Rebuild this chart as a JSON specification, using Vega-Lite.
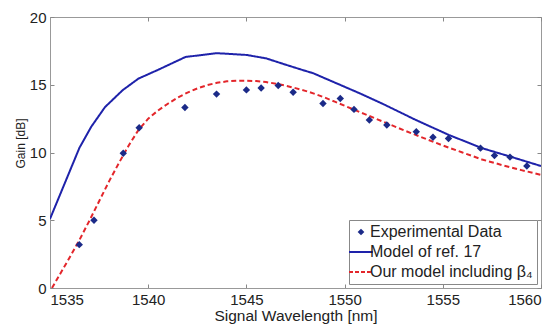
{
  "$schema": "https://vega.github.io/schema/vega-lite/v6.json",
  "width": 491,
  "height": 271,
  "autosize": "none",
  "padding": {"left": 50, "top": 17, "right": 18, "bottom": 36},
  "background": "white",
  "config": {
    "font": "Liberation Sans",
    "view": {"stroke": "#999999", "strokeWidth": 1},
    "axis": {
      "grid": false,
      "domainColor": "#999999",
      "tickColor": "#888888",
      "labelColor": "#222222",
      "titleColor": "#222222",
      "labelFont": "Liberation Sans",
      "titleFont": "Liberation Sans",
      "labelFontSize": 15,
      "titleFontWeight": "normal",
      "tickSize": -4
    }
  },
  "data": {
    "values": [
      {"series": "Experimental Data", "wl": 1536.49, "gain": 3.2},
      {"series": "Experimental Data", "wl": 1537.24, "gain": 5.0},
      {"series": "Experimental Data", "wl": 1538.73, "gain": 9.94},
      {"series": "Experimental Data", "wl": 1539.54, "gain": 11.83},
      {"series": "Experimental Data", "wl": 1541.87, "gain": 13.32},
      {"series": "Experimental Data", "wl": 1543.48, "gain": 14.31},
      {"series": "Experimental Data", "wl": 1545.0, "gain": 14.62},
      {"series": "Experimental Data", "wl": 1545.75, "gain": 14.76},
      {"series": "Experimental Data", "wl": 1546.62, "gain": 14.95},
      {"series": "Experimental Data", "wl": 1547.38, "gain": 14.45},
      {"series": "Experimental Data", "wl": 1548.9, "gain": 13.62},
      {"series": "Experimental Data", "wl": 1549.78, "gain": 13.98},
      {"series": "Experimental Data", "wl": 1550.48, "gain": 13.18},
      {"series": "Experimental Data", "wl": 1551.26, "gain": 12.4},
      {"series": "Experimental Data", "wl": 1552.15, "gain": 12.03},
      {"series": "Experimental Data", "wl": 1553.65, "gain": 11.53},
      {"series": "Experimental Data", "wl": 1554.5, "gain": 11.13},
      {"series": "Experimental Data", "wl": 1555.29, "gain": 11.03},
      {"series": "Experimental Data", "wl": 1556.92, "gain": 10.32},
      {"series": "Experimental Data", "wl": 1557.63, "gain": 9.77},
      {"series": "Experimental Data", "wl": 1558.42, "gain": 9.66},
      {"series": "Experimental Data", "wl": 1559.28, "gain": 9.0},

      {"series": "Model of ref. 17", "wl": 1535.0, "gain": 5.1},
      {"series": "Model of ref. 17", "wl": 1536.5, "gain": 10.35},
      {"series": "Model of ref. 17", "wl": 1537.1, "gain": 11.9},
      {"series": "Model of ref. 17", "wl": 1537.8, "gain": 13.35},
      {"series": "Model of ref. 17", "wl": 1538.7, "gain": 14.6},
      {"series": "Model of ref. 17", "wl": 1539.5, "gain": 15.45},
      {"series": "Model of ref. 17", "wl": 1540.5, "gain": 16.1},
      {"series": "Model of ref. 17", "wl": 1541.9, "gain": 17.05},
      {"series": "Model of ref. 17", "wl": 1543.5, "gain": 17.33},
      {"series": "Model of ref. 17", "wl": 1545.0, "gain": 17.2},
      {"series": "Model of ref. 17", "wl": 1546.0, "gain": 16.95},
      {"series": "Model of ref. 17", "wl": 1546.7, "gain": 16.62},
      {"series": "Model of ref. 17", "wl": 1547.5, "gain": 16.25},
      {"series": "Model of ref. 17", "wl": 1548.4, "gain": 15.85},
      {"series": "Model of ref. 17", "wl": 1549.2, "gain": 15.35},
      {"series": "Model of ref. 17", "wl": 1550.0, "gain": 14.85},
      {"series": "Model of ref. 17", "wl": 1550.8, "gain": 14.35},
      {"series": "Model of ref. 17", "wl": 1552.0, "gain": 13.55},
      {"series": "Model of ref. 17", "wl": 1553.6, "gain": 12.42},
      {"series": "Model of ref. 17", "wl": 1555.3, "gain": 11.3},
      {"series": "Model of ref. 17", "wl": 1557.0, "gain": 10.32},
      {"series": "Model of ref. 17", "wl": 1558.7, "gain": 9.58},
      {"series": "Model of ref. 17", "wl": 1560.0, "gain": 9.0},

      {"series": "Our model including β₄", "wl": 1535.1, "gain": 0.0},
      {"series": "Our model including β₄", "wl": 1535.5, "gain": 1.0},
      {"series": "Our model including β₄", "wl": 1536.0, "gain": 2.25},
      {"series": "Our model including β₄", "wl": 1536.5, "gain": 3.55},
      {"series": "Our model including β₄", "wl": 1537.0, "gain": 4.95},
      {"series": "Our model including β₄", "wl": 1537.5, "gain": 6.4},
      {"series": "Our model including β₄", "wl": 1538.0, "gain": 7.85},
      {"series": "Our model including β₄", "wl": 1538.5, "gain": 9.2},
      {"series": "Our model including β₄", "wl": 1539.0, "gain": 10.5},
      {"series": "Our model including β₄", "wl": 1539.5, "gain": 11.65},
      {"series": "Our model including β₄", "wl": 1540.0, "gain": 12.5},
      {"series": "Our model including β₄", "wl": 1540.5, "gain": 13.1},
      {"series": "Our model including β₄", "wl": 1541.0, "gain": 13.6},
      {"series": "Our model including β₄", "wl": 1541.5, "gain": 14.05},
      {"series": "Our model including β₄", "wl": 1542.0, "gain": 14.42},
      {"series": "Our model including β₄", "wl": 1542.5, "gain": 14.73},
      {"series": "Our model including β₄", "wl": 1543.0, "gain": 14.97},
      {"series": "Our model including β₄", "wl": 1543.5, "gain": 15.14},
      {"series": "Our model including β₄", "wl": 1544.0, "gain": 15.25},
      {"series": "Our model including β₄", "wl": 1544.5, "gain": 15.3},
      {"series": "Our model including β₄", "wl": 1545.0, "gain": 15.3},
      {"series": "Our model including β₄", "wl": 1545.5, "gain": 15.27},
      {"series": "Our model including β₄", "wl": 1546.0, "gain": 15.2},
      {"series": "Our model including β₄", "wl": 1546.5, "gain": 15.08},
      {"series": "Our model including β₄", "wl": 1547.0, "gain": 14.93},
      {"series": "Our model including β₄", "wl": 1547.5, "gain": 14.75},
      {"series": "Our model including β₄", "wl": 1548.0, "gain": 14.55},
      {"series": "Our model including β₄", "wl": 1548.5, "gain": 14.32},
      {"series": "Our model including β₄", "wl": 1549.0, "gain": 14.05},
      {"series": "Our model including β₄", "wl": 1549.5, "gain": 13.75},
      {"series": "Our model including β₄", "wl": 1550.0, "gain": 13.45},
      {"series": "Our model including β₄", "wl": 1550.5, "gain": 13.15},
      {"series": "Our model including β₄", "wl": 1551.0, "gain": 12.85},
      {"series": "Our model including β₄", "wl": 1551.5, "gain": 12.55},
      {"series": "Our model including β₄", "wl": 1552.0, "gain": 12.25},
      {"series": "Our model including β₄", "wl": 1553.0, "gain": 11.65},
      {"series": "Our model including β₄", "wl": 1554.0, "gain": 11.08},
      {"series": "Our model including β₄", "wl": 1555.0, "gain": 10.52},
      {"series": "Our model including β₄", "wl": 1556.0, "gain": 10.0},
      {"series": "Our model including β₄", "wl": 1557.0, "gain": 9.48},
      {"series": "Our model including β₄", "wl": 1558.0, "gain": 9.08},
      {"series": "Our model including β₄", "wl": 1559.0, "gain": 8.7},
      {"series": "Our model including β₄", "wl": 1560.0, "gain": 8.35}
    ]
  },
  "layer": [
    {
      "transform": [{"filter": "datum.series !== 'Experimental Data'"}],
      "mark": {"type": "line", "strokeWidth": 2, "clip": true},
      "encoding": {
        "x": {
          "field": "wl", "type": "quantitative",
          "scale": {"domain": [1535, 1560], "nice": false, "zero": false},
          "axis": {
            "orient": "bottom",
            "values": [1535, 1540, 1545, 1550, 1555, 1560],
            "format": "d",
            "labelPadding": 8,
            "title": "Signal Wavelength [nm]",
            "titleFontSize": 15.5,
            "titlePadding": 1
          }
        },
        "y": {
          "field": "gain", "type": "quantitative",
          "scale": {"domain": [0, 20], "nice": false},
          "axis": {
            "orient": "left",
            "values": [0, 5, 10, 15, 20],
            "labelPadding": 8,
            "title": "Gain [dB]",
            "titleFontSize": 12,
            "titlePadding": 2,
            "titleY": 126
          }
        },
        "color": {
          "field": "series", "type": "nominal",
          "scale": {
            "domain": ["Experimental Data", "Model of ref. 17", "Our model including β₄"],
            "range": ["#1b2a88", "#1e22aa", "#e3262b"]
          },
          "legend": {
            "orient": "bottom-right",
            "offset": 4,
            "title": null,
            "labelFontSize": 16,
            "labelLimit": 300,
            "labelColor": "#222222",
            "labelFont": "Liberation Sans",
            "strokeColor": "#888888",
            "fillColor": "white",
            "padding": 4,
            "rowPadding": 4,
            "labelOffset": 1,
            "symbolSize": 576,
            "symbolStrokeWidth": 2,
            "encode": {
              "symbols": {
                "update": {
                  "shape": {"signal": "datum.value === 'Experimental Data' ? 'diamond' : 'stroke'"},
                  "size": {"signal": "datum.value === 'Experimental Data' ? 45 : 576"},
                  "strokeDash": {"signal": "datum.value === 'Our model including β₄' ? [4, 2] : [1, 0]"},
                  "fill": {"signal": "datum.value === 'Experimental Data' ? '#1b2a88' : 'transparent'"},
                  "stroke": {"signal": "datum.value === 'Experimental Data' ? '#1b2a88' : (datum.value === 'Model of ref. 17' ? '#1e22aa' : '#e3262b')"},
                  "strokeWidth": {"signal": "datum.value === 'Experimental Data' ? 0 : 2"}
                }
              }
            }
          }
        },
        "strokeDash": {
          "field": "series", "type": "nominal",
          "scale": {
            "domain": ["Model of ref. 17", "Our model including β₄"],
            "range": [[1, 0], [5, 3]]
          },
          "legend": null
        }
      }
    },
    {
      "transform": [{"filter": "datum.series === 'Experimental Data'"}],
      "mark": {"type": "point", "shape": "diamond", "filled": true, "size": 55, "opacity": 1},
      "encoding": {
        "x": {
          "field": "wl", "type": "quantitative",
          "axis": {"orient": "top", "values": [1535, 1540, 1545, 1550, 1555, 1560], "labels": false, "domain": false, "title": null}
        },
        "y": {
          "field": "gain", "type": "quantitative",
          "axis": {"orient": "right", "values": [0, 5, 10, 15, 20], "labels": false, "domain": false, "title": null}
        },
        "color": {"field": "series", "type": "nominal"}
      }
    }
  ],
  "resolve": {"axis": {"x": "independent", "y": "independent"}}
}
